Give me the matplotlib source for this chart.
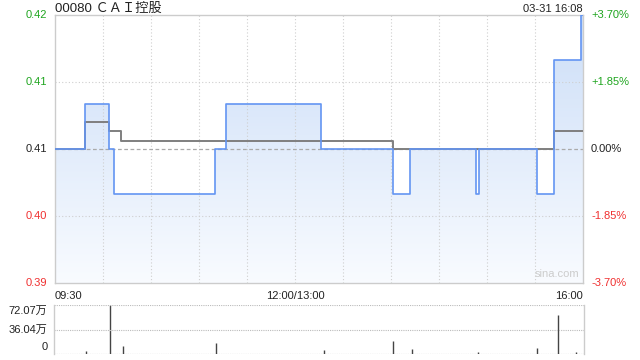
import numpy as np
import matplotlib
matplotlib.use("Agg")
import matplotlib.pyplot as plt
from matplotlib.patches import PathPatch

plt.rcParams['font.family'] = ['Liberation Sans', 'Noto Sans CJK SC', 'DejaVu Sans']

# ---- data (minutes from 09:30, trading minutes; lunch removed) ----
title = "00080 ＣＡＩ控股"
stamp = "03-31 16:08"
prev_close = 0.405
price_t = [0, 19, 34, 37, 100, 107, 166, 211, 222, 263, 265, 301, 312, 329, 330]
price_v = [0.405, 0.41, 0.405, 0.40, 0.405, 0.41, 0.405, 0.40, 0.405, 0.40, 0.405, 0.40, 0.415, 0.42, 0.42]
avg_t = [0, 19, 34, 41, 211, 312, 330]
avg_v = [0.405, 0.408, 0.407, 0.4059, 0.405, 0.407, 0.407]
vol_t = [20, 35, 43, 101, 168, 211, 223, 264, 301, 314, 325]
vol_v = [44000, 720700, 118000, 166000, 55000, 191000, 78000, 29000, 93000, 574000, 30000]
y_ticks = [0.39, 0.3975, 0.405, 0.4125, 0.42]
y_labels = ["0.39", "0.40", "0.41", "0.41", "0.42"]
pct_labels = ["-3.70%", "-1.85%", "0.00%", "+1.85%", "+3.70%"]
x_labels = ["09:30", "12:00/13:00", "16:00"]
x_label_pos = [0, 150, 330]
vol_ticks = [0, 360350, 720700]
vol_labels = ["0", "36.04万", "72.07万"]

GREEN = '#1fa51f'
RED = '#f03030'
BLACK = '#222222'
label_colors = [RED, RED, BLACK, GREEN, GREEN]

fig = plt.figure(figsize=(6.4, 3.6), dpi=100)
ax = fig.add_axes([55/640, 1-283/360, 528/640, 268/360])
axv = fig.add_axes([54/640, 1-354/360, 530/640, 49/360])

ymin, ymax = 0.39, 0.42
ax.set_xlim(0, 330)
ax.set_ylim(ymin, ymax)

# gradient fill under price
poly = ax.fill_between(price_t, price_v, ymin, step='post', color='none', lw=0)
grad = np.linspace(1, 0, 256).reshape(-1, 1)
top_c = np.array([0.80, 0.87, 0.97])
bot_c = np.array([0.975, 0.985, 1.0])
img = top_c * grad[..., None] + bot_c * (1 - grad[..., None])
im = ax.imshow(img, extent=[0, 330, ymin, ymax], aspect='auto', origin='upper', zorder=1)
path = poly.get_paths()[0]
patch = PathPatch(path, transform=ax.transData, facecolor='none', edgecolor='none')
ax.add_patch(patch)
im.set_clip_path(patch)

# grid
for m in range(30, 330, 30):
    ax.axvline(m, color='#cfcfcf', lw=0.8, ls=(0, (1, 2)), zorder=2)
for yv in [0.3975, 0.4125]:
    ax.axhline(yv, color='#cfcfcf', lw=0.8, ls=(0, (1, 2)), zorder=2)
ax.axhline(prev_close, color='#aaaaaa', lw=0.9, ls=(0, (3, 2)), zorder=2)

ax.step(price_t, price_v, where='post', color='#6395f2', lw=1.2, zorder=4)
ax.step(avg_t, avg_v, where='post', color='#7f7f7f', lw=1.4, zorder=3)

ax.set_xticks([])
ax.set_yticks([])
for s in ax.spines.values():
    s.set_color('#cccccc')
    s.set_linewidth(1.0)

for yv, lab, c, pl in zip(y_ticks, y_labels, label_colors, pct_labels):
    ax.text(-5, yv, lab, transform=ax.transData, ha='right', va='center', fontsize=8, color=c, clip_on=False)
    ax.text(335, yv, pl, transform=ax.transData, ha='left', va='center', fontsize=8, color=c, clip_on=False)

for lab, xp, ha in zip(x_labels, x_label_pos, ['left', 'center', 'right']):
    ax.text(xp, ymin - 0.0015, lab, ha=ha, va='center', fontsize=8, color=BLACK, clip_on=False)

ax.text(328, 0.3905, 'sina.com', ha='right', va='bottom', fontsize=8, color='#cccccc', zorder=5)

fig.text(55/640, 1-9/360, title, ha='left', va='center', fontsize=9.5, color=BLACK)
fig.text(583/640, 1-9/360, stamp, ha='right', va='center', fontsize=8, color=BLACK)

# volume
axv.set_xlim(0, 330)
axv.set_ylim(0, vol_ticks[-1])
axv.vlines(vol_t, 0, vol_v, color='#444444', lw=1.0)
axv.axhline(vol_ticks[1], color='#bbbbbb', lw=0.8, ls=(0, (1, 1)))
axv.axhline(vol_ticks[2], color='#bbbbbb', lw=0.8, ls=(0, (1, 1)))
axv.axhline(0, color='#777777', lw=0.8, ls=(0, (1, 1)))
axv.set_xticks([])
axv.set_yticks([])
for k, s in axv.spines.items():
    s.set_color('#cccccc')
    s.set_linewidth(1.0)
axv.spines['top'].set_visible(False)
axv.spines['bottom'].set_visible(False)
px = vol_ticks[-1] / 49.0
label_off = [7 * px, 0, -6 * px]
for yv, lab, off in zip(vol_ticks, vol_labels, label_off):
    axv.text(-4, yv + off, lab, ha='right', va='center', fontsize=8, color=BLACK, clip_on=False)

fig.savefig('out.png', dpi=100, facecolor='white')
